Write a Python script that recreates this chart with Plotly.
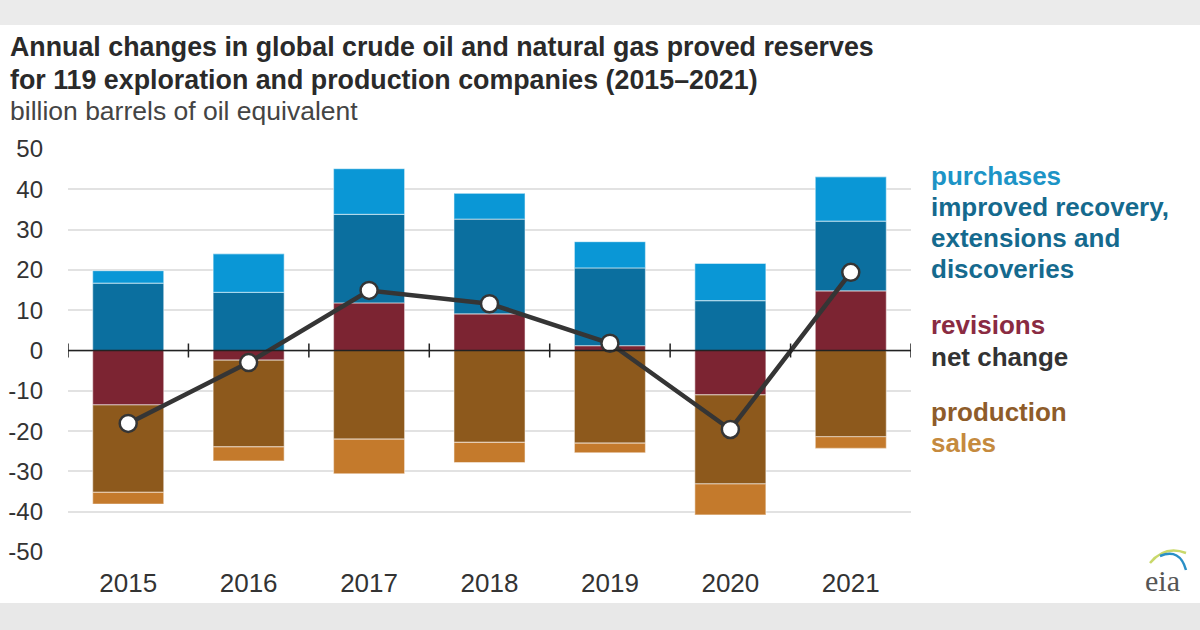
import plotly.graph_objects as go

years = ["2015", "2016", "2017", "2018", "2019", "2020", "2021"]
revisions = [-13.5, -2.4, 11.8, 9.1, 1.2, -11.0, 14.8]
improved = [16.7, 14.4, 22.0, 23.5, 19.3, 12.4, 17.3]
purchases = [3.1, 9.6, 11.3, 6.4, 6.5, 9.2, 11.0]
production = [-21.7, -21.5, -22.0, -22.8, -23.0, -22.1, -21.4]
sales = [-2.9, -3.5, -8.6, -5.0, -2.4, -7.7, -2.9]
net_change = [-18.1, -3.0, 14.9, 11.6, 1.8, -19.6, 19.4]
y_ticks = [-50, -40, -30, -20, -10, 0, 10, 20, 30, 40, 50]
y_tick_labels = [str(v) for v in y_ticks]

C_PURCH = "#0a97d6"
C_IMPR = "#0b6f9f"
C_REV = "#7c2432"
C_PROD = "#8d591c"
C_SALES = "#c47a2c"

W, H = 1200, 630
L, R, T, B = 68, 289, 149, 78
PH = H - T - B
PW = W - L - R


def px_y(p):
    return (H - B - p) / PH


def px_x(p):
    return (p - L) / PW


fig = go.Figure()
sep = dict(width=1.2, color="rgba(255,255,255,0.45)")
for name, vals, col in [
    ("revisions", revisions, C_REV),
    ("improved recovery", improved, C_IMPR),
    ("purchases", purchases, C_PURCH),
    ("production", production, C_PROD),
    ("sales", sales, C_SALES),
]:
    fig.add_trace(go.Bar(x=years, y=vals, name=name, marker=dict(color=col, line=sep),
                         showlegend=False, hoverinfo="skip"))

fig.add_trace(go.Scatter(
    x=years, y=net_change, mode="lines+markers", name="net change", showlegend=False,
    line=dict(color="#353535", width=4.5),
    marker=dict(size=17, color="white", line=dict(color="#353535", width=2.5)),
))

shapes = []
shapes.append(dict(type="line", xref="paper", yref="y", x0=0, x1=1, y0=0, y1=0,
                   line=dict(color="#222", width=1.5), layer="above"))
for i in range(len(years) + 1):
    shapes.append(dict(type="line", xref="x", yref="y", x0=i - 0.5, x1=i - 0.5,
                       ysizemode="pixel", yanchor=0, y0=-7, y1=7,
                       line=dict(color="#222", width=1.5), layer="above"))
shapes.append(dict(type="rect", xref="paper", yref="paper", x0=px_x(0), x1=px_x(W),
                   y0=px_y(25), y1=px_y(0), fillcolor="#ebebeb", line=dict(width=0), layer="below"))
shapes.append(dict(type="rect", xref="paper", yref="paper", x0=px_x(0), x1=px_x(W),
                   y0=px_y(H), y1=px_y(603), fillcolor="#e8e8e8", line=dict(width=0), layer="below"))
# eia logo arcs
shapes.append(dict(type="path", xref="paper", yref="paper",
                   path=f"M {px_x(1150)} {px_y(563)} Q {px_x(1165)} {px_y(545)} {px_x(1186)} {px_y(553)}",
                   line=dict(color="#c9d86a", width=2.5)))
shapes.append(dict(type="path", xref="paper", yref="paper",
                   path=f"M {px_x(1160)} {px_y(556)} Q {px_x(1180)} {px_y(548)} {px_x(1186)} {px_y(570)}",
                   line=dict(color="#2a8fc6", width=2.5)))

ann = []
FONT = "Liberation Sans"
ann.append(dict(text="<b>Annual changes in global crude oil and natural gas proved reserves</b>",
                x=px_x(8), y=px_y(47), font=dict(size=26.8, color="#2a2a2a", family=FONT)))
ann.append(dict(text="<b>for 119 exploration and production companies (2015\u20132021)</b>",
                x=px_x(8), y=px_y(80), font=dict(size=26.8, color="#2a2a2a", family=FONT)))
ann.append(dict(text="billion barrels of oil equivalent",
                x=px_x(8), y=px_y(111), font=dict(size=26.5, color="#444", family=FONT)))

legend_items = [
    ("purchases", 176, "#1d94c6"),
    ("improved recovery,", 207, "#156a8e"),
    ("extensions and", 238, "#156a8e"),
    ("discoveries", 269, "#156a8e"),
    ("revisions", 325, "#8a2b42"),
    ("net change", 357, "#333333"),
    ("production", 412, "#8e5c2a"),
    ("sales", 443, "#c58a3e"),
]
for txt, py, col in legend_items:
    ann.append(dict(text="<b>" + txt + "</b>", x=px_x(929), y=px_y(py),
                    font=dict(size=26, color=col, family=FONT)))
ann.append(dict(text="eia", x=px_x(1162), y=px_y(580), xanchor="center",
                font=dict(size=30, color="#555", family="Liberation Serif")))

for a in ann:
    a.setdefault("xanchor", "left")
    a.update(xref="paper", yref="paper", yanchor="middle", showarrow=False)

fig.update_layout(
    width=W, height=H, margin=dict(l=L, r=R, t=T, b=B, autoexpand=False),
    barmode="relative", bargap=0.41,
    paper_bgcolor="white", plot_bgcolor="white",
    shapes=shapes, annotations=ann,
    xaxis=dict(type="category", showgrid=False, showline=False, ticks="",
               tickfont=dict(size=26, color="#333", family=FONT), ticklabelstandoff=13,
               range=[-0.5, len(years) - 0.5], fixedrange=True),
    yaxis=dict(range=[-50, 50], tickvals=y_ticks, ticktext=y_tick_labels,
               showgrid=True, gridcolor="#e2e2e2",
               gridwidth=2, zeroline=False, showline=False, ticks="",
               tickfont=dict(size=24, color="#333", family=FONT), ticklabelstandoff=24,
               fixedrange=True),
    font=dict(family=FONT),
)

fig.write_html("out.html", config={"displayModeBar": False},
               post_script="document.body.style.margin='0px';")
